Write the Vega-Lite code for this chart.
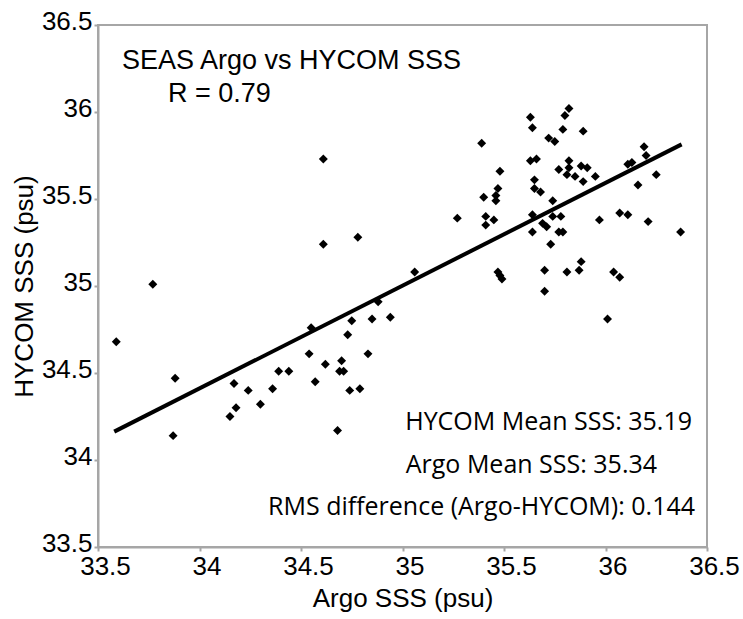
{
  "$schema": "https://vega.github.io/schema/vega-lite/v6.json",
  "width": 609,
  "height": 522,
  "autosize": "none",
  "padding": {"left": 98, "top": 25, "right": 36, "bottom": 72},
  "background": "white",
  "config": {
    "view": {"stroke": "#a6a6a6", "strokeWidth": 2},
    "axis": {
      "domainColor": "#a6a6a6", "domainWidth": 2, "tickColor": "#a6a6a6", "tickWidth": 2, "tickSize": 4,
      "grid": false, "labelFont": "Liberation Sans", "labelFontSize": 26, "labelColor": "black",
      "titleFont": "Liberation Sans", "titleFontSize": 26, "titleFontWeight": "normal", "titleColor": "black"
    }
  },
  "datasets": {
    "points": [
      {"argo": 35.82, "hycom": 36.02}, {"argo": 35.80, "hycom": 35.98}, {"argo": 35.63, "hycom": 35.97},
      {"argo": 35.64, "hycom": 35.91}, {"argo": 35.79, "hycom": 35.90}, {"argo": 35.89, "hycom": 35.89},
      {"argo": 35.39, "hycom": 35.82}, {"argo": 35.72, "hycom": 35.85}, {"argo": 35.75, "hycom": 35.83},
      {"argo": 36.19, "hycom": 35.80}, {"argo": 36.20, "hycom": 35.75}, {"argo": 36.13, "hycom": 35.71},
      {"argo": 36.11, "hycom": 35.70}, {"argo": 35.63, "hycom": 35.72}, {"argo": 35.66, "hycom": 35.73},
      {"argo": 35.82, "hycom": 35.72}, {"argo": 35.88, "hycom": 35.69}, {"argo": 35.91, "hycom": 35.68},
      {"argo": 35.77, "hycom": 35.67}, {"argo": 35.82, "hycom": 35.68}, {"argo": 35.81, "hycom": 35.64},
      {"argo": 35.85, "hycom": 35.63}, {"argo": 35.95, "hycom": 35.63}, {"argo": 35.89, "hycom": 35.60},
      {"argo": 36.25, "hycom": 35.64}, {"argo": 36.16, "hycom": 35.58}, {"argo": 35.48, "hycom": 35.66},
      {"argo": 35.65, "hycom": 35.61}, {"argo": 35.47, "hycom": 35.56}, {"argo": 35.65, "hycom": 35.56},
      {"argo": 35.68, "hycom": 35.54}, {"argo": 35.40, "hycom": 35.51}, {"argo": 35.46, "hycom": 35.52},
      {"argo": 35.46, "hycom": 35.49}, {"argo": 35.74, "hycom": 35.49}, {"argo": 35.27, "hycom": 35.39},
      {"argo": 35.41, "hycom": 35.40}, {"argo": 35.45, "hycom": 35.38}, {"argo": 35.41, "hycom": 35.35},
      {"argo": 35.64, "hycom": 35.41}, {"argo": 35.74, "hycom": 35.40}, {"argo": 35.78, "hycom": 35.40},
      {"argo": 35.97, "hycom": 35.38}, {"argo": 36.07, "hycom": 35.42}, {"argo": 36.11, "hycom": 35.41},
      {"argo": 36.21, "hycom": 35.37}, {"argo": 35.69, "hycom": 35.36}, {"argo": 35.71, "hycom": 35.34},
      {"argo": 35.64, "hycom": 35.31}, {"argo": 35.77, "hycom": 35.31}, {"argo": 35.79, "hycom": 35.31},
      {"argo": 36.37, "hycom": 35.31}, {"argo": 35.73, "hycom": 35.24}, {"argo": 35.06, "hycom": 35.08},
      {"argo": 35.47, "hycom": 35.08}, {"argo": 35.48, "hycom": 35.06}, {"argo": 35.49, "hycom": 35.04},
      {"argo": 35.70, "hycom": 35.09}, {"argo": 35.81, "hycom": 35.08}, {"argo": 35.87, "hycom": 35.09},
      {"argo": 35.88, "hycom": 35.14}, {"argo": 36.04, "hycom": 35.08}, {"argo": 36.07, "hycom": 35.05},
      {"argo": 35.70, "hycom": 34.97}, {"argo": 36.01, "hycom": 34.81},
      {"argo": 34.61, "hycom": 35.73}, {"argo": 34.61, "hycom": 35.24}, {"argo": 34.78, "hycom": 35.28},
      {"argo": 33.77, "hycom": 35.01}, {"argo": 33.59, "hycom": 34.68}, {"argo": 33.88, "hycom": 34.47},
      {"argo": 33.87, "hycom": 34.14}, {"argo": 34.88, "hycom": 34.91}, {"argo": 34.55, "hycom": 34.76},
      {"argo": 34.75, "hycom": 34.80}, {"argo": 34.85, "hycom": 34.81}, {"argo": 34.94, "hycom": 34.82},
      {"argo": 34.73, "hycom": 34.72}, {"argo": 34.54, "hycom": 34.61}, {"argo": 34.62, "hycom": 34.55},
      {"argo": 34.70, "hycom": 34.57}, {"argo": 34.83, "hycom": 34.61}, {"argo": 34.69, "hycom": 34.51},
      {"argo": 34.71, "hycom": 34.51}, {"argo": 34.39, "hycom": 34.51}, {"argo": 34.44, "hycom": 34.51},
      {"argo": 34.17, "hycom": 34.44}, {"argo": 34.24, "hycom": 34.40}, {"argo": 34.36, "hycom": 34.41},
      {"argo": 34.57, "hycom": 34.45}, {"argo": 34.74, "hycom": 34.40}, {"argo": 34.79, "hycom": 34.41},
      {"argo": 34.18, "hycom": 34.30}, {"argo": 34.15, "hycom": 34.25}, {"argo": 34.30, "hycom": 34.32},
      {"argo": 34.68, "hycom": 34.17}
    ],
    "fit": [
      {"argo": 33.58, "hycom": 34.163},
      {"argo": 36.375, "hycom": 35.814}
    ],
    "heading": [
      {"label": "SEAS Argo vs HYCOM SSS", "argo": 33.618, "hycom": 36.247},
      {"label": "R = 0.79", "argo": 33.845, "hycom": 36.057}
    ],
    "stats": [
      {"label": "HYCOM Mean SSS:  35.19", "argo": 36.426, "hycom": 34.172},
      {"label": "Argo Mean SSS:  35.34", "argo": 36.254, "hycom": 33.925},
      {"label": "RMS difference (Argo-HYCOM):  0.144", "argo": 36.441, "hycom": 33.684}
    ]
  },
  "encoding": {
    "x": {
      "field": "argo", "type": "quantitative",
      "scale": {"domain": [33.5, 36.5], "nice": false, "zero": false},
      "axis": {"title": "Argo SSS (psu)", "values": [33.5, 34, 34.5, 35, 35.5, 36, 36.5], "format": "~g", "labelPadding": 2, "titlePadding": 6, "labelFlush": false, "labelOffset": 7}
    },
    "y": {
      "field": "hycom", "type": "quantitative",
      "scale": {"domain": [33.5, 36.5], "nice": false, "zero": false},
      "axis": {"title": "HYCOM SSS (psu)", "values": [33.5, 34, 34.5, 35, 35.5, 36, 36.5], "format": "~g", "labelPadding": 2, "titlePadding": 4, "labelFlush": false, "labelOffset": -4}
    }
  },
  "layer": [
    {
      "data": {"name": "fit"},
      "mark": {"type": "line", "color": "black", "strokeWidth": 4}
    },
    {
      "data": {"name": "points"},
      "mark": {"type": "point", "shape": "diamond", "filled": true, "color": "black", "opacity": 1, "size": 80}
    },
    {
      "data": {"name": "heading"},
      "mark": {"type": "text", "align": "left", "baseline": "alphabetic", "font": "Liberation Sans", "fontSize": 27, "color": "black"},
      "encoding": {"text": {"field": "label"}}
    },
    {
      "data": {"name": "stats"},
      "mark": {"type": "text", "align": "right", "baseline": "alphabetic", "font": "Open Sans", "fontSize": 25, "color": "black"},
      "encoding": {"text": {"field": "label"}}
    }
  ]
}
